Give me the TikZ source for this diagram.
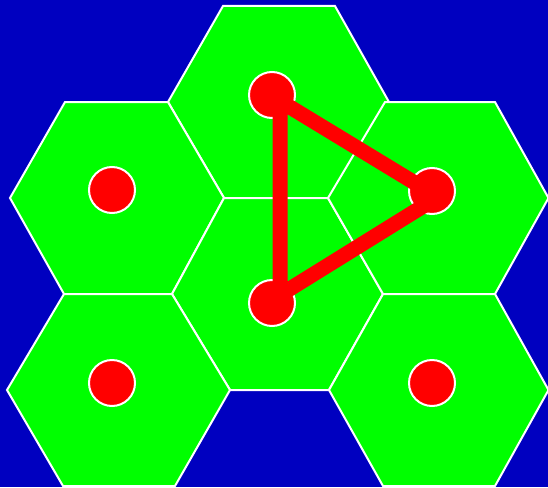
\documentclass[tikz,border=0pt]{standalone}
\definecolor{bgblue}{RGB}{0,0,192}
\definecolor{hexgreen}{RGB}{0,255,0}
\definecolor{dotred}{RGB}{255,0,0}
\tikzset{
  hexcell/.style={fill=hexgreen, draw=white, line width=2pt, line join=miter},
  reddot/.style={circle, fill=dotred, draw=white, line width=2pt, minimum size=46pt, inner sep=0pt},
  triline/.style={draw=dotred, line width=15pt, line join=round}
}
\begin{document}
\begin{tikzpicture}[x=1pt,y=-1pt]
\fill[bgblue] (0,0) rectangle (548,487);
\useasboundingbox (0,0) rectangle (548,487);
\begin{scope}
\clip (0,0) rectangle (548,487);
% hexagons
\path[hexcell] (168,102) -- (223,6) -- (335,6) -- (389,102) -- (330,198) -- (224,198) -- cycle;
\path[hexcell] (10,198) -- (65,102) -- (168,102) -- (224,198) -- (172,294) -- (64,294) -- cycle;
\path[hexcell] (224,198) -- (328,198) -- (383,294) -- (329,390) -- (230,390) -- (172,294) -- cycle;
\path[hexcell] (328,198) -- (385,102) -- (495,102) -- (548.5,198) -- (495,294) -- (383,294) -- cycle;
\path[hexcell] (7,390) -- (64,294) -- (172,294) -- (230,390) -- (175,486) -- (63,486) -- cycle;
\path[hexcell] (329,390) -- (383,294) -- (495,294) -- (548.5,390) -- (495,486) -- (383,486) -- cycle;
\end{scope}
% dots
\node[reddot] (dT)  at (272,95)  {};
\node[reddot] (dUL) at (112,190) {};
\node[reddot] (dUR) at (432,191) {};
\node[reddot] (dM)  at (272,303) {};
\node[reddot] (dLL) at (112,383) {};
\node[reddot] (dLR) at (432,383) {};
% triangle between cell centres
\coordinate (cT)  at (280,101);
\coordinate (cUR) at (438,197);
\coordinate (cM)  at (280,295);
\draw[triline] (cT) -- (cUR) -- (cM) -- cycle;
\end{tikzpicture}
\end{document}
